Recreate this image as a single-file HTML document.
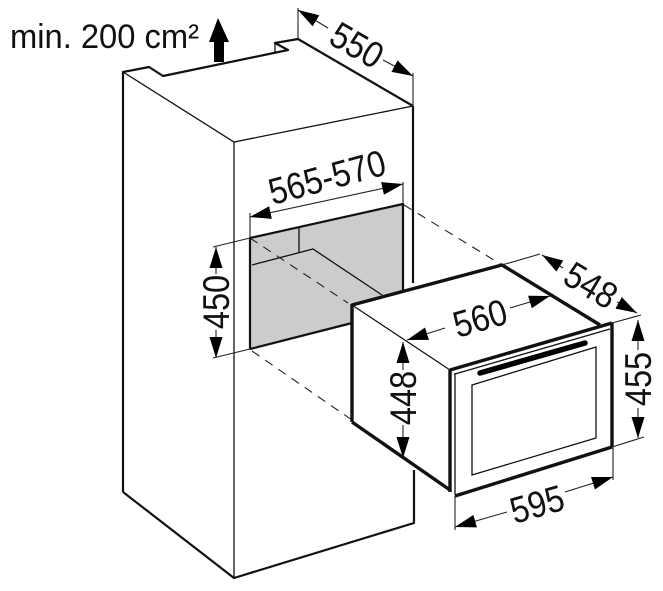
<!DOCTYPE html>
<html><head><meta charset="utf-8"><style>
html,body{margin:0;padding:0;background:#fff}
svg{display:block}
text{font-family:"Liberation Sans",Arial,sans-serif;fill:#111;text-anchor:middle}
.t{stroke:#111;stroke-width:1.3;fill:none}
.m{stroke:#111;stroke-width:2.2;fill:none;stroke-linejoin:round}
.b{stroke:#111;stroke-width:3.4;fill:none;stroke-linejoin:round}
.d{stroke:#222;stroke-width:1.1;fill:none}
.a{stroke:#222;stroke-width:1.1;fill:none;stroke-dasharray:9 7}
</style></head><body>
<svg width="663" height="591" viewBox="0 0 663 591" xmlns="http://www.w3.org/2000/svg">
<defs>
<marker id="e" viewBox="0 0 21 13" refX="21" refY="6.5" markerWidth="21" markerHeight="13" markerUnits="userSpaceOnUse" orient="auto"><path d="M0 0L21 6.5L0 13Z" fill="#000"/></marker>
<marker id="s" viewBox="0 0 21 13" refX="0" refY="6.5" markerWidth="21" markerHeight="13" markerUnits="userSpaceOnUse" orient="auto"><path d="M21 0L0 6.5L21 13Z" fill="#000"/></marker>
</defs>

<!-- recess -->
<polygon points="250,238 403,204 403,290 352,305 352,323 250,349" fill="#cccccc"/>

<!-- cabinet -->
<polyline class="m" points="123,492 123,72 149,67 163,76 288,50 275,43 298,39 413,106"/>
<path class="t" d="M275,43V53"/>
<polyline class="t" points="123,72 234,142 413,106"/>
<line class="t" x1="234" y1="142" x2="234" y2="578"/>
<line class="m" x1="413" y1="106" x2="413" y2="283"/>
<polyline class="m" points="123,492 234,578 414,523 414,470"/>

<!-- recess outlines -->
<path class="m" d="M250,349V238L403,204V290"/>
<line class="m" x1="250" y1="349" x2="352" y2="323"/>
<path class="t" d="M299,227V252M252,265L313,249L382,295"/>

<!-- dashed projection lines -->
<line class="a" x1="250" y1="238" x2="348" y2="303"/>
<line class="a" x1="404" y1="205" x2="502" y2="265"/>
<line class="a" x1="252" y1="351" x2="352" y2="420"/>

<!-- oven body -->
<polygon points="352,305 502,265 612,323 612,447 455,496 352,422" fill="#fff"/>
<polyline class="b" points="352,422 352,305 502,265 600,325"/>
<line class="b" x1="352" y1="422" x2="450" y2="490"/>
<line class="t" x1="352" y1="305" x2="450" y2="370"/>

<!-- oven door -->
<path class="b" d="M450,370L612,323"/>
<path class="t" d="M455,374L610,329"/>
<line class="b" x1="612" y1="323" x2="612" y2="447"/>
<line class="b" x1="612" y1="447" x2="455" y2="496"/>
<line class="b" x1="450" y1="370" x2="450" y2="492"/>
<line class="t" x1="455" y1="373" x2="455" y2="495"/>
<line x1="480" y1="373" x2="585" y2="343" stroke="#000" stroke-width="5.5" stroke-linecap="round"/>
<polygon class="t" points="472,385 596,347 596,438 472,475"/>

<!-- up arrow -->
<polygon points="218,18 229,42 224,42 224,62 214,62 214,42 209,42" fill="#000"/>
<text transform="translate(10,48)" font-size="34" style="text-anchor:start" textLength="189" lengthAdjust="spacingAndGlyphs">min. 200 cm²</text>

<!-- 550 -->
<path class="d" d="M298,8V39M413,73V106"/>
<line class="d" x1="298" y1="10" x2="328" y2="28" marker-start="url(#s)"/>
<line class="d" x1="383" y1="60" x2="413" y2="76" marker-end="url(#e)"/>
<text transform="translate(357,45) rotate(30) scale(.88,1)" y="13" font-size="37">550</text>

<!-- 565-570 -->
<path class="d" d="M250,213V238M403,182V204"/>
<line class="d" x1="250" y1="217" x2="403" y2="184" marker-start="url(#s)" marker-end="url(#e)"/>
<text transform="translate(327,177) rotate(-15) scale(.88,1)" y="13" font-size="37">565-570</text>

<!-- 450 -->
<path class="d" d="M213,247L250,238M213,358L250,349"/>
<line class="d" x1="216" y1="247" x2="216" y2="274" marker-start="url(#s)"/>
<line class="d" x1="216" y1="330" x2="216" y2="358" marker-end="url(#e)"/>
<text transform="translate(216,302) rotate(-90) scale(.88,1)" y="13" font-size="37">450</text>

<!-- 448 -->
<line class="d" x1="403" y1="342" x2="403" y2="370" marker-start="url(#s)"/>
<line class="d" x1="403" y1="425" x2="403" y2="458" marker-end="url(#e)"/>
<text transform="translate(403,398) rotate(-90) scale(.88,1)" y="13" font-size="37">448</text>

<!-- 560 -->
<line class="d" x1="407" y1="340" x2="445" y2="328" marker-start="url(#s)"/>
<line class="d" x1="510" y1="308" x2="550" y2="296" marker-end="url(#e)"/>
<text transform="translate(480,318) rotate(-16) scale(.88,1)" y="13" font-size="37">560</text>

<!-- 548 -->
<path class="d" d="M502,265L540,254"/>
<line class="d" x1="542" y1="255" x2="563" y2="268" marker-start="url(#s)"/>
<line class="d" x1="617" y1="302" x2="637" y2="313" marker-end="url(#e)"/>
<text transform="translate(591,285) rotate(31) scale(.88,1)" y="13" font-size="37">548</text>

<!-- 455 -->
<path class="d" d="M612,323L641,315M612,447L644,437"/>
<line class="d" x1="638" y1="320" x2="638" y2="350" marker-start="url(#s)"/>
<line class="d" x1="638" y1="408" x2="638" y2="438" marker-end="url(#e)"/>
<text transform="translate(638,379) rotate(-90) scale(.88,1)" y="13" font-size="37">455</text>

<!-- 595 -->
<path class="d" d="M455,496V530M613,447V480"/>
<line class="d" x1="455" y1="527" x2="507" y2="512" marker-start="url(#s)"/>
<line class="d" x1="565" y1="492" x2="613" y2="477" marker-end="url(#e)"/>
<text transform="translate(537,504) rotate(-16) scale(.88,1)" y="13" font-size="37">595</text>
</svg>
</body></html>
